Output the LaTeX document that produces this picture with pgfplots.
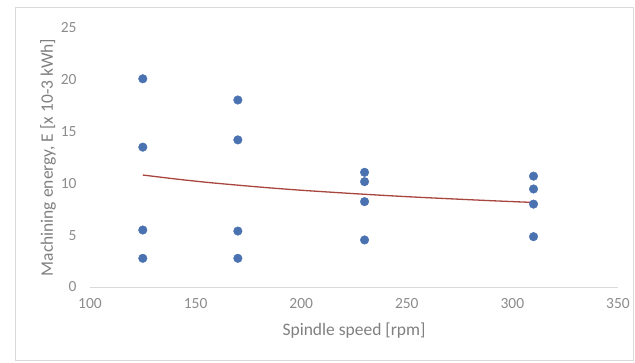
\documentclass[border=0pt]{standalone}
\usepackage{pgfplots}
\pgfplotsset{compat=1.18}
\usepackage{fontspec}
\setmainfont{Carlito}
\definecolor{dotblue}{HTML}{4A72B0}
\definecolor{trendred}{HTML}{A8453F}
\definecolor{ticktxt}{HTML}{8C8C8C}
\definecolor{labtxt}{HTML}{808080}
\definecolor{axline}{HTML}{D9D9D9}
\begin{document}
\begin{tikzpicture}
\begin{axis}[
  scale only axis,
  width=528pt, height=259pt,
  xmin=100, xmax=350, ymin=0, ymax=25,
  xtick={100,150,...,350}, ytick={0,5,...,25},
  axis lines*=left,
  x axis line style={axline, line width=0.8pt, -},
  y axis line style={draw=none},
  xtick style={draw=none}, ytick style={draw=none},
  major tick length=0pt,
  tick label style={font=\fontsize{15.5}{17}\selectfont, text=ticktxt},
  /pgf/number format/assume math mode=true,
  xticklabel style={yshift=-8pt},
  yticklabel style={xshift=-10pt},
  xlabel={Spindle speed [rpm]},
  ylabel={Machining energy, E [x 10-3 kWh]},
  label style={font=\fontsize{17.5}{19}\selectfont, text=labtxt},
  xlabel style={yshift=-7pt},
  ylabel style={yshift=-2pt},
  clip=false,
]
\addplot[only marks, mark=*, mark size=4.3pt, color=dotblue] coordinates {
  (125,20.1) (125,13.5) (125,5.5) (125,2.77)
  (170,18.05) (170,14.2) (170,5.4) (170,2.77)
  (230,11.07) (230,10.17) (230,8.24) (230,4.54)
  (310,10.7) (310,9.46) (310,8.0) (310,4.86)
};
\addplot[smooth, color=trendred, line width=1.3pt] coordinates {
  (125,10.81) (140,10.44) (155,10.11) (170,9.83) (185,9.57) (200,9.34)
  (215,9.14) (230,8.95) (250,8.72) (270,8.52) (290,8.33) (310,8.16)
};
\end{axis}
\draw[axline, line width=0.8pt] ([xshift=-75pt,yshift=-73pt]current axis.origin) rectangle ++(618pt,353pt);
\path ([xshift=-90pt,yshift=-75pt]current axis.origin) rectangle ++(635pt,362pt);
\end{tikzpicture}
\end{document}
